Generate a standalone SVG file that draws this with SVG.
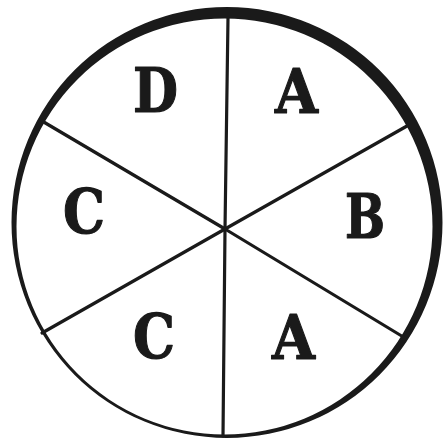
<svg xmlns="http://www.w3.org/2000/svg" width="443" height="440" viewBox="0 0 443 440">
<style>
.rim{fill:#1a1a1a;fill-rule:evenodd}
.spoke{stroke:#1a1a1a;stroke-width:3.2;stroke-linecap:round;fill:none}
.lbl{font-family:"DejaVu Serif","Liberation Serif",serif;font-weight:bold;font-size:62px;fill:#1a1a1a;stroke:#1a1a1a;stroke-width:1.2;stroke-linejoin:round;text-anchor:middle}
</style>
<rect width="443" height="440" fill="#ffffff"/>
<g id="rim">
<path class="rim" d="M11.5,222.5 a215.5,215.5 0 1,0 431,0 a215.5,215.5 0 1,0 -431,0 Z M16.5,226.5 a208,208 0 1,0 416,0 a208,208 0 1,0 -416,0 Z"/>
</g>
<g id="connectors">
<line class="spoke" x1="225" y1="229" x2="228" y2="18"/>
<line class="spoke" x1="225" y1="229" x2="223" y2="436"/>
<line class="spoke" x1="225" y1="229" x2="42" y2="121"/>
<line class="spoke" x1="225" y1="229" x2="407" y2="126"/>
<line class="spoke" x1="225" y1="229" x2="42" y2="333"/>
<line class="spoke" x1="225" y1="229" x2="405" y2="338"/>
</g>
<g id="sector-D"><text class="lbl" x="155.5" y="112" textLength="45" lengthAdjust="spacingAndGlyphs">D</text></g>
<g id="sector-A-top"><text class="lbl" x="296.5" y="113" textLength="43" lengthAdjust="spacingAndGlyphs">A</text></g>
<g id="sector-C-left"><text class="lbl" x="84" y="233" textLength="42" lengthAdjust="spacingAndGlyphs">C</text></g>
<g id="sector-B"><text class="lbl" x="365" y="238" textLength="40" lengthAdjust="spacingAndGlyphs">B</text></g>
<g id="sector-C-bottom"><text class="lbl" x="154" y="358" textLength="42" lengthAdjust="spacingAndGlyphs">C</text></g>
<g id="sector-A-bottom"><text class="lbl" x="293.5" y="359" textLength="43" lengthAdjust="spacingAndGlyphs">A</text></g>
</svg>
